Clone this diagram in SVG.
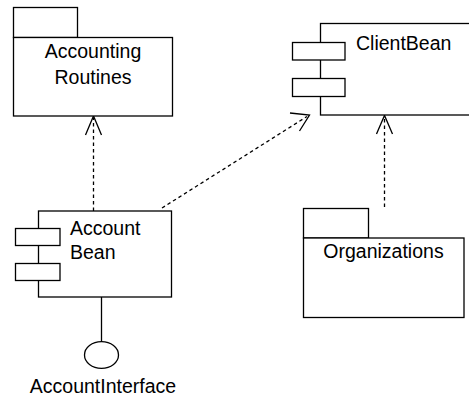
<svg xmlns="http://www.w3.org/2000/svg" width="469" height="400" viewBox="0 0 469 400">
<style>
.b{fill:#fff;stroke:#000;stroke-width:1.3}
.t{font-family:"Liberation Sans",Arial,sans-serif;font-size:19.5px;fill:#000}
.d{fill:none;stroke:#000;stroke-width:1.3;stroke-dasharray:3.5,3}
.h{fill:none;stroke:#000;stroke-width:1.3}
</style>
<rect width="469" height="400" fill="#fff"/>
<g id="connectors">
<line class="d" x1="93.5" y1="211" x2="93.5" y2="118"/>
<path class="h" d="M85.5,135 L93.5,116 L101.5,135"/>
<line class="d" x1="162" y1="208" x2="307" y2="116.5"/>
<path class="h" d="M290,113 L309.5,115 L299.5,131"/>
<line class="d" x1="384.5" y1="207" x2="384.5" y2="118"/>
<path class="h" d="M376.5,134 L384.5,115.5 L392.5,134"/>
<line class="h" x1="101.5" y1="297" x2="101.5" y2="342"/>
</g>
<g id="accounting-routines">
<rect class="b" x="13.5" y="7.5" width="64" height="30"/>
<rect class="b" x="13.5" y="37.5" width="159" height="78.5"/>
<text class="t" x="93" y="58" text-anchor="middle">Accounting</text>
<text class="t" x="93" y="84" text-anchor="middle">Routines</text>
</g>
<g id="client-bean">
<rect class="b" x="320.5" y="23.5" width="160" height="91.5"/>
<rect class="b" x="292.5" y="42.5" width="52.5" height="17.5"/>
<rect class="b" x="292.5" y="78.5" width="52.5" height="18"/>
<text class="t" x="356" y="50">ClientBean</text>
</g>
<g id="account-bean">
<rect class="b" x="38.5" y="211" width="133" height="86"/>
<rect class="b" x="15.5" y="228.5" width="44.5" height="17"/>
<rect class="b" x="15.5" y="263.5" width="44.5" height="17"/>
<text class="t" x="70" y="235">Account</text>
<text class="t" x="70" y="259">Bean</text>
</g>
<g id="account-interface">
<ellipse class="b" cx="101.5" cy="355" rx="17" ry="13.3"/>
<text class="t" x="103" y="393" text-anchor="middle">AccountInterface</text>
</g>
<g id="organizations">
<rect class="b" x="303.5" y="208.5" width="65" height="29.5"/>
<rect class="b" x="303.5" y="238" width="160.5" height="79.5"/>
<text class="t" x="383.5" y="258" text-anchor="middle">Organizations</text>
</g>
</svg>
